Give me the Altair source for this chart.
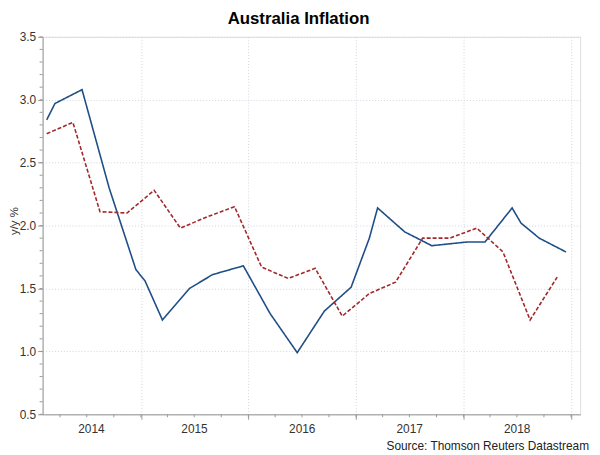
import altair as alt
import pandas as pd

# Blue series (solid) – vertices
blue_dates = ["2014-02-15", "2014-03-15", "2014-06-15", "2014-09-15", "2014-12-15",
              "2015-01-15", "2015-03-15", "2015-06-15", "2015-09-01", "2015-12-15",
              "2016-03-15", "2016-06-15", "2016-09-15", "2016-12-15", "2017-02-15",
              "2017-03-15", "2017-06-15", "2017-09-15", "2018-01-15", "2018-03-15",
              "2018-06-15", "2018-07-15", "2018-09-15", "2018-12-15"]
blue_values = [2.84, 2.97, 3.08, 2.30, 1.65,
               1.56, 1.25, 1.50, 1.61, 1.68,
               1.30, 0.99, 1.32, 1.51, 1.90,
               2.14, 1.95, 1.84, 1.87, 1.87,
               2.14, 2.02, 1.90, 1.79]

# Red series (dashed) – quarterly, plotted mid-quarter
red_dates = ["2014-02-15", "2014-05-15", "2014-08-15", "2014-11-15",
             "2015-02-15", "2015-05-15", "2015-08-15", "2015-11-15",
             "2016-02-15", "2016-05-15", "2016-08-15", "2016-11-15",
             "2017-02-15", "2017-05-15", "2017-08-15", "2017-11-15",
             "2018-02-15", "2018-05-15", "2018-08-15", "2018-11-15"]
red_values = [2.73, 2.82, 2.11, 2.10,
              2.28, 1.98, 2.07, 2.15,
              1.67, 1.58, 1.66, 1.28,
              1.46, 1.55, 1.90, 1.90,
              1.98, 1.79, 1.25, 1.59]

year_labels = ["2014", "2015", "2016", "2017", "2018"]
year_label_dates = ["2014-07-17", "2015-07-02", "2016-07-02", "2017-07-02", "2018-07-02"]
year_starts = ["2015-01-01", "2016-01-01", "2017-01-01", "2018-01-01", "2019-01-01"]
quarter_starts = [f"{y}-{m:02d}-01" for y in range(2014, 2019) for m in (1, 4, 7, 10)][1:] + ["2019-01-01"]
y_minor = [round(0.5 + 0.1 * i, 1) for i in range(31)]

title_text = "Australia Inflation"
y_title = "y/y %"
source_text = "Source: Thomson Reuters Datastream"

W, H = 544, 382
FONT = "Liberation Sans"
BLUE = "#1f4e87"
RED = "#a3282b"

lines = pd.DataFrame({
    "date": [d + "T00:00:00" for d in blue_dates] + [d + "T00:00:00" for d in red_dates],
    "value": blue_values + red_values,
    "series": ["blue"] * len(blue_dates) + ["red"] * len(red_dates),
})

xscale = alt.Scale(domain=[alt.DateTime(year=2014, month=2, date=1),
                           alt.DateTime(year=2019, month=2, date=1)])
yscale = alt.Scale(domain=[0.5, 3.5], nice=False, zero=False)

xaxis = alt.Axis(
    values=[alt.DateTime(year=int(s[:4]), month=1, date=1) for s in year_starts],
    labels=False, title=None, tickSize=5, tickColor="#999999",
    domainColor="#999999", grid=True, gridColor="#d0d4dc", gridDash=[1, 2],
)
yaxis = alt.Axis(
    values=[0.5, 1.0, 1.5, 2.0, 2.5, 3.0, 3.5], format=".1f", title=y_title,
    tickSize=5, tickColor="#999999", domainColor="#999999",
    grid=True, gridColor="#d0d4dc", gridDash=[1, 2],
    labelFont=FONT, labelFontSize=12, labelColor="#333333", labelPadding=2,
    titleFont=FONT, titleFontSize=11.5, titleFontWeight="normal", titleColor="#333333",
    titleX=-28.5, titleY=186, titleAlign="center", titleBaseline="middle", titleAngle=-90,
)

line_layer = alt.Chart(lines).mark_line(strokeWidth=1.6).encode(
    x=alt.X("date:T", scale=xscale, axis=xaxis),
    y=alt.Y("value:Q", scale=yscale, axis=yaxis),
    color=alt.Color("series:N", scale=alt.Scale(domain=["blue", "red"], range=[BLUE, RED]), legend=None),
    strokeDash=alt.StrokeDash("series:N", scale=alt.Scale(domain=["blue", "red"], range=[[1, 0], [4, 2]]), legend=None),
)

xminor = alt.Chart(pd.DataFrame({"date": [d + "T00:00:00" for d in quarter_starts]})).mark_rule(
    color="#999999", strokeWidth=1
).encode(x=alt.X("date:T", scale=xscale), y=alt.value(H), y2=alt.value(H + 3))

yminor = alt.Chart(pd.DataFrame({"v": y_minor})).mark_rule(
    color="#999999", strokeWidth=1
).encode(y=alt.Y("v:Q", scale=yscale), x=alt.value(-3), x2=alt.value(0))

ylabels = alt.Chart(pd.DataFrame({"date": [d + "T00:00:00" for d in year_label_dates], "label": year_labels})).mark_text(
    font=FONT, fontSize=12, color="#333333", baseline="alphabetic", align="center"
).encode(x=alt.X("date:T", scale=xscale), y=alt.value(H + 18.5), text="label:N")

source = alt.Chart(pd.DataFrame({"t": [source_text]})).mark_text(
    font=FONT, fontSize=12, color="#222222", baseline="alphabetic", align="right"
).encode(x=alt.value(W + 9), y=alt.value(H + 36), text="t:N")

chart = alt.layer(line_layer, xminor, yminor, ylabels, source).properties(
    width=W, height=H,
    title=alt.TitleParams(title_text, font=FONT, fontSize=17, fontWeight="bold", color="#000000",
                          anchor="middle", frame="group", dx=-13, offset=3),
    padding={"left": 35, "top": 26.5, "right": 12, "bottom": 38},
    autosize=alt.AutoSizeParams(type="none"),
).configure_view(stroke=None).configure(background="white")

chart.save("out.html", embed_options={"renderer": "svg", "actions": False})
